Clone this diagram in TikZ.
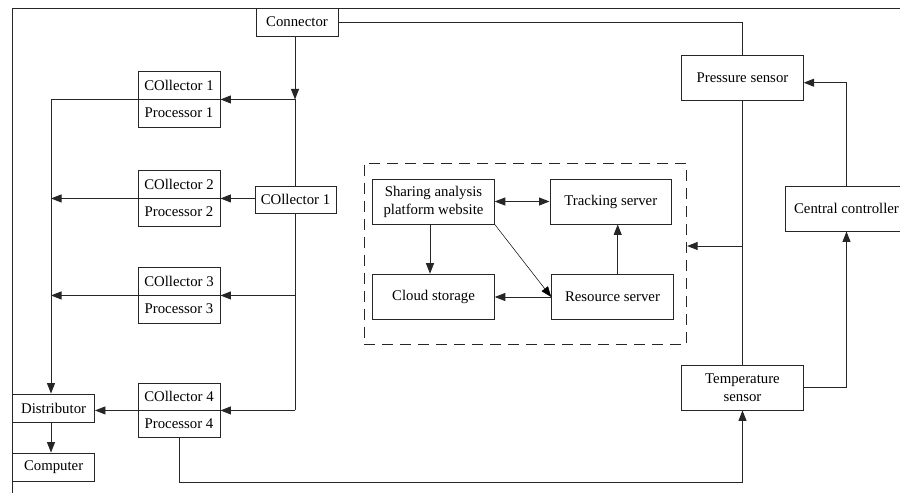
\documentclass[tikz,border=0pt]{standalone}
\usepackage{fontspec}
\setmainfont{Liberation Serif}
\usetikzlibrary{arrows.meta,calc}
\begin{document}
\begin{tikzpicture}[x=1pt,y=-1pt,
  every node/.style={font=\fontsize{14.8}{18}\selectfont, inner sep=0pt},
  box/.style={draw=black!85, line width=0.9pt, rectangle, minimum width=82pt, minimum height=28pt, align=center},
  wbox/.style={box, minimum width=121.5pt, minimum height=45pt},
  ln/.style={draw=black!85, line width=0.9pt},
  arr/.style={ln, -{Triangle[length=10.5pt,width=8pt]}},
  darr/.style={ln, {Triangle[length=10.5pt,width=8pt]}-{Triangle[length=10.5pt,width=8pt]}},
  thinarr/.style={draw=black, line width=0.5pt, -{Triangle[length=10.5pt,width=8pt]}},
  grpbox/.style={draw=black!85, line width=0.9pt, dash pattern=on 11pt off 7pt, minimum width=322.7pt, minimum height=181pt}
]
\useasboundingbox (0,0) rectangle (900,493);
% frame
\draw[ln] (900,8) -- (12.7,8) -- (12.7,493);
% nodes
\node[box] (conn) at (297,22) {Connector};
\node[box] (c1) at (179,85) {COllector 1};
\node[box] (p1) at (179,113) {Processor 1};
\node[box] (c2) at (179,184) {COllector 2};
\node[box] (p2) at (179,212) {Processor 2};
\node[box] (c3) at (179,281) {COllector 3};
\node[box] (p3) at (179,309) {Processor 3};
\node[box, minimum height=27pt] (c4) at (179,396.5) {COllector 4};
\node[box, minimum height=27pt] (p4) at (179,423.5) {Processor 4};
\node[box, minimum width=81pt, minimum height=27pt] (mc) at (295.5,199.5) {COllector 1};
\node[box, minimum width=81.8pt] (dist) at (53.6,408) {Distributor};
\node[box, minimum width=81.8pt] (comp) at (53.6,467) {Computer};
\node[wbox] (ps) at (742.5,77.5) {Pressure sensor};
\node[wbox] (ts) at (742.5,387.5) {Temperature\\sensor};
\node[wbox] (cc) at (846.5,208.5) {Central controller};
\node[grpbox] (grp) at (525.35,253.5) {};
\node[wbox, minimum width=121.6pt] (sap) at (433.5,201.5) {Sharing analysis\\platform website};
\node[wbox, minimum width=121.7pt] (trk) at (610.8,201.5) {Tracking server};
\node[wbox, minimum width=121.6pt, minimum height=45.7pt] (cs) at (433.5,297) {Cloud storage};
\node[wbox, minimum width=121.7pt, minimum height=45.7pt] (rs) at (612.5,297) {Resource server};
% helper coordinates
\coordinate (busL) at (51,0);
\coordinate (busR) at (295,0);
\coordinate (bot) at (0,482);
\coordinate (jn) at (742.5,246);
\coordinate (ccy) at (0,82.7);
\coordinate (rsx) at (617.7,0);
\coordinate (sapx) at (430,0);
% left half
\draw[arr] (conn.south -| busR) -- (busR |- c1.south);
\draw[arr] (busR |- c1.south) -- (c1.south east);
\draw[ln] (busR |- c1.south) -- (busR |- mc.north);
\draw[ln] (busR |- mc.south) -- (busR |- c4.south);
\draw[arr] (c2.south east -| mc.west) -- (c2.south east);
\draw[arr] (busR |- c3.south) -- (c3.south east);
\draw[arr] (busR |- c4.south) -- (c4.south east);
\draw[arr] (c1.south west) -| (busL |- dist.north);
\draw[arr] (c2.south west) -- (c2.south west -| busL);
\draw[arr] (c3.south west) -- (c3.south west -| busL);
\draw[arr] (c4.south west) -- (c4.south west -| dist.east);
\draw[arr] (busL |- dist.south) -- (busL |- comp.north);
\draw[arr] (p4.south) |- (bot -| ts.south) -- (ts.south);
% right half
\draw[ln] (conn.east) -| (ps.north);
\draw[ln] (ps.south) -- (ts.north);
\draw[arr] (jn) -- (grp.east |- jn);
\draw[arr] (ts.east) -| (cc.south);
\draw[arr] (cc.north) |- (ps.east |- ccy);
% inner group
\draw[darr] (sap.east |- trk.west) -- (trk.west);
\draw[arr] (sapx |- sap.south) -- (sapx |- cs.north);
\draw[thinarr] (sap.south east) -- (rs.west);
\draw[arr] (rs.west) -- (cs.east |- rs.west);
\draw[arr] (rsx |- rs.north) -- (rsx |- trk.south);
\end{tikzpicture}
\end{document}
